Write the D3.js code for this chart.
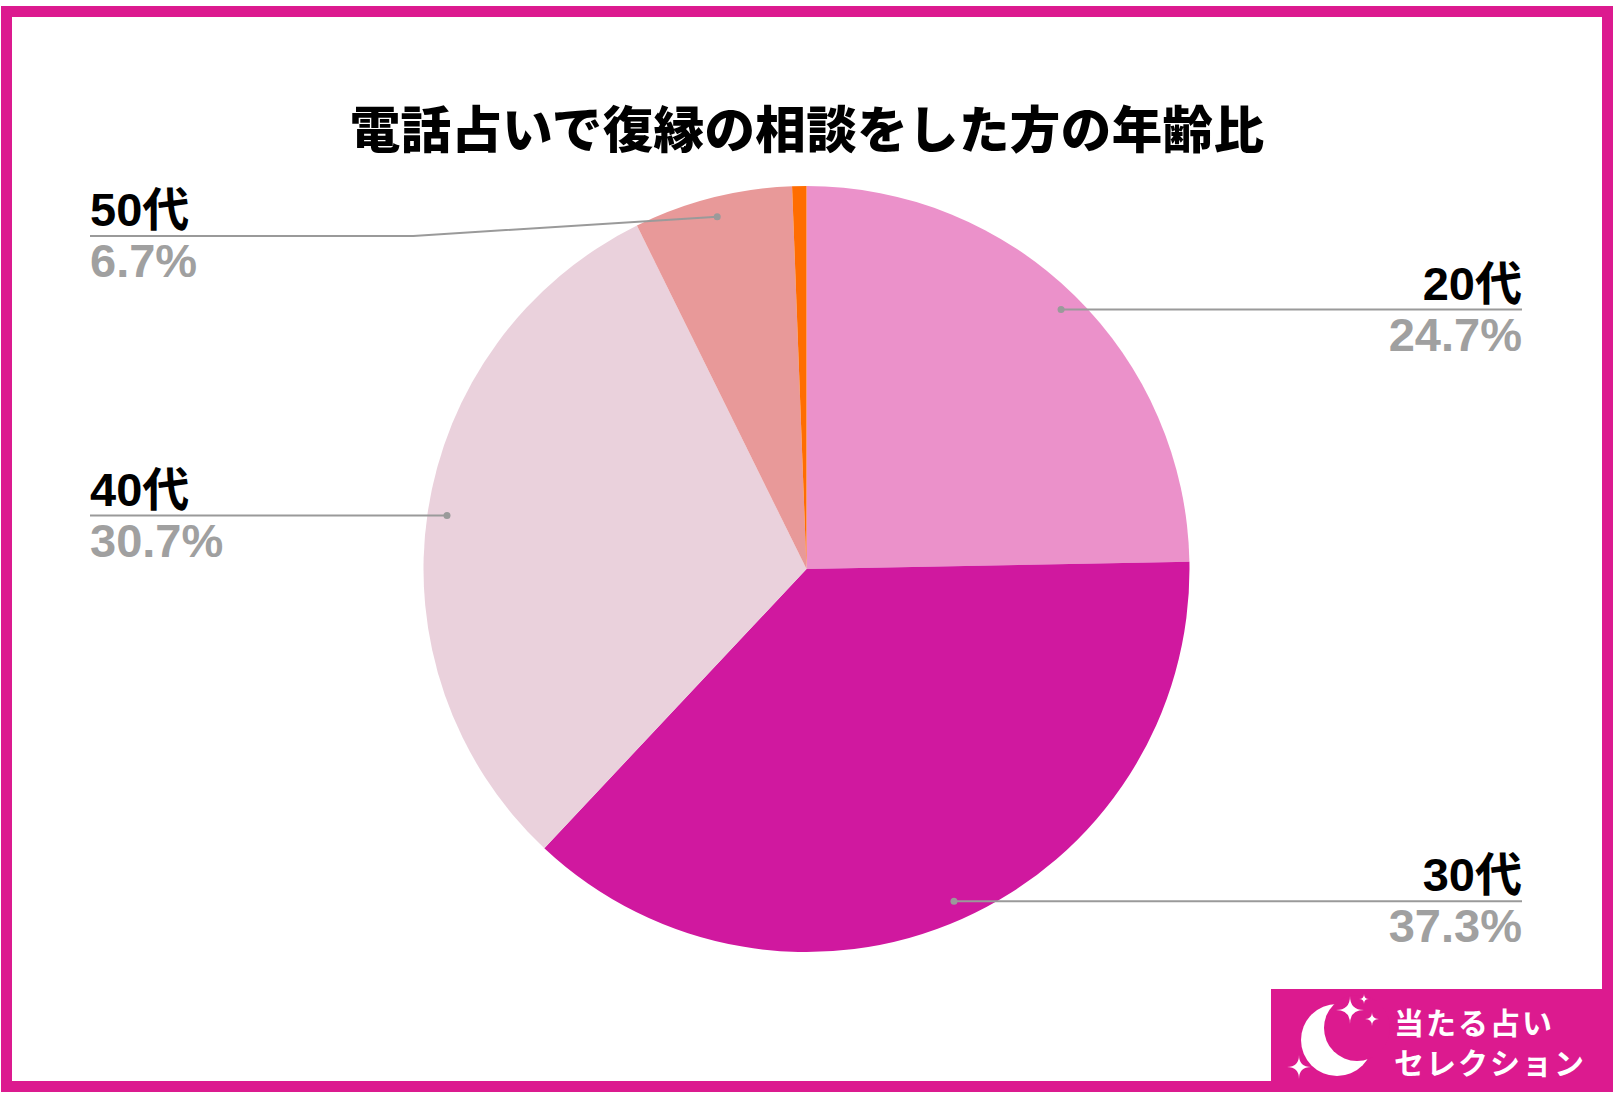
<!DOCTYPE html>
<html><head><meta charset="utf-8">
<script src="https://cdn.jsdelivr.net/npm/d3@7"></script>
<style>html,body{margin:0;padding:0;background:#fff;} svg{display:block;}</style>
</head><body>
<script>
// ---- data ----
const categories = ["20代", "30代", "40代", "50代", "60代以上"];
const values = [24.7, 37.3, 30.7, 6.7, 0.6];
const percentLabels = ["24.7%", "37.3%", "30.7%", "6.7%", ""];
const showLabel = [true, true, true, true, false];
const colors = ["#EB91CA", "#D0189F", "#EAD1DC", "#E89999", "#FF6D01"];
const titleText = "電話占いで復縁の相談をした方の年齢比";
const logoLines = ["当たる占い", "セレクション"];

// ---- layout ----
const W = 1616, H = 1100;
const magenta = "#DC1A8F";
const cx = 806.5, cy = 569, r = 383;
const dotR = r * 0.949;
const leftX = 90, rightX = 1522;
const minLabelY = 236;
const elbowOffset = 304;
const latin = "'Liberation Sans', Arial, 'Noto Sans CJK JP', sans-serif";
const cjk = "'Noto Sans CJK JP', 'Noto Sans', sans-serif";

const svg = d3.select("body").append("svg").attr("width", W).attr("height", H);
svg.append("rect").attr("width", W).attr("height", H).attr("fill", "#fff");

// border
svg.append("rect").attr("x", 6.5).attr("y", 11.5).attr("width", 1601).attr("height", 1075)
  .attr("fill", "none").attr("stroke", magenta).attr("stroke-width", 11);

// title
svg.append("text").attr("x", 807).attr("y", 126)
  .attr("text-anchor", "middle").attr("dominant-baseline", "central")
  .attr("font-family", cjk).attr("font-weight", 900).attr("font-size", 50.5)
  .attr("letter-spacing", 0.4)
  .attr("fill", "#000").text(titleText);

// pie
const pie = d3.pie().sort(null).value(d => d).startAngle(0).endAngle(2 * Math.PI);
const arcs = pie(values);
const arcGen = d3.arc().innerRadius(0).outerRadius(r);
const g = svg.append("g").attr("transform", `translate(${cx},${cy})`);
g.selectAll("path").data(arcs).join("path")
  .attr("d", arcGen).attr("fill", (d, i) => colors[i]);

// labels
const lineColor = "#9a9a9a";
arcs.forEach((a, i) => {
  if (!showLabel[i]) return;
  const mid = (a.startAngle + a.endAngle) / 2;
  const dx = cx + dotR * Math.sin(mid);
  const dy = cy - dotR * Math.cos(mid);
  const right = mid < Math.PI;
  const ly = Math.max(dy, minLabelY);
  const lx = right ? rightX : leftX;
  let pts;
  if (Math.abs(ly - dy) > 0.5) {
    const ex = right ? dx + elbowOffset : dx - elbowOffset;
    pts = [[lx, ly], [ex, ly], [dx, dy]];
  } else {
    pts = [[lx, ly], [dx, dy]];
  }
  svg.append("path").attr("d", d3.line()(pts))
    .attr("fill", "none").attr("stroke", lineColor).attr("stroke-width", 2);
  svg.append("circle").attr("cx", dx).attr("cy", dy).attr("r", 3.5).attr("fill", lineColor);
  const anchor = right ? "end" : "start";
  svg.append("text").attr("x", lx).attr("y", ly - 10)
    .attr("text-anchor", anchor).attr("font-family", latin).attr("font-weight", "bold")
    .attr("font-size", 47).attr("fill", "#000").text(categories[i]);
  svg.append("text").attr("x", lx).attr("y", ly + 41)
    .attr("text-anchor", anchor).attr("font-family", latin).attr("font-weight", "bold")
    .attr("font-size", 47).attr("fill", "#a0a0a0").text(percentLabels[i]);
});

// logo
const logo = svg.append("g");
logo.append("rect").attr("x", 1271).attr("y", 989).attr("width", 342).attr("height", 103).attr("fill", magenta);
logo.append("circle").attr("cx", 1337).attr("cy", 1040).attr("r", 36).attr("fill", "#fff");
logo.append("circle").attr("cx", 1357).attr("cy", 1028).attr("r", 33).attr("fill", magenta);
function star(x, y, s) {
  return `M${x},${y - s} Q${x},${y} ${x + s},${y} Q${x},${y} ${x},${y + s} Q${x},${y} ${x - s},${y} Q${x},${y} ${x},${y - s} Z`;
}
[[1350, 1010, 14], [1364, 999, 5], [1372, 1019, 7], [1299, 1067, 12]].forEach(s => {
  logo.append("path").attr("d", star(s[0], s[1], s[2])).attr("fill", "#fff");
});
logo.append("text").attr("x", 1394).attr("y", 1021).attr("dominant-baseline", "central")
  .attr("font-family", cjk).attr("font-weight", "bold").attr("font-size", 30)
  .attr("letter-spacing", 2).attr("fill", "#fff").text(logoLines[0]);
logo.append("text").attr("x", 1394).attr("y", 1061).attr("dominant-baseline", "central")
  .attr("font-family", cjk).attr("font-weight", "bold").attr("font-size", 30)
  .attr("letter-spacing", 2).attr("fill", "#fff").text(logoLines[1]);
</script>
</body></html>
